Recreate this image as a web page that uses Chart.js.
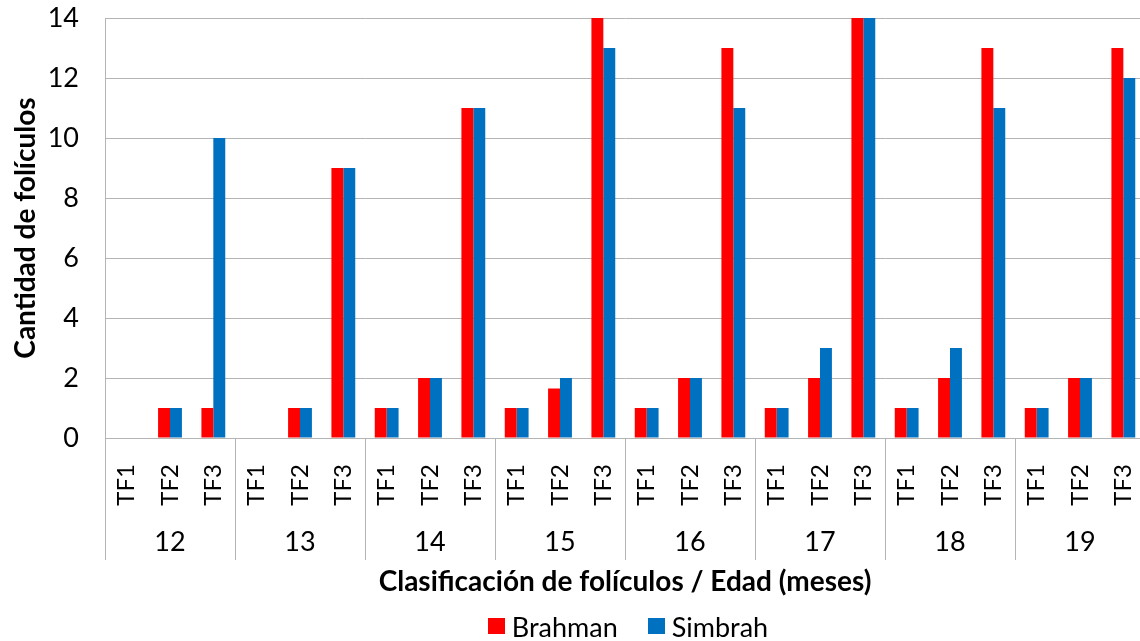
<!DOCTYPE html>
<html>
<head>
<meta charset="utf-8">
<script src="https://cdn.jsdelivr.net/npm/chart.js@4/dist/chart.umd.min.js"></script>
<style>
  html, body { margin: 0; padding: 0; background: #ffffff; overflow: hidden; }
  #wrap { width: 1145px; height: 641px; position: relative; }
</style>
</head>
<body>
<div id="wrap"><canvas id="c"></canvas></div>
<script>
// ---- data ----
const groups = ['12', '13', '14', '15', '16', '17', '18', '19'];
const tfLabels = ['TF1', 'TF2', 'TF3'];
const brahman = [0, 1, 1,  0, 1, 9,  1, 2, 11,  1, 1.65, 14,  1, 2, 13,  1, 2, 14,  1, 2, 13,  1, 2, 13];
const simbrah = [0, 1, 10, 0, 1, 9,  1, 2, 11,  1, 2, 13,    1, 2, 11,  1, 3, 14,  1, 3, 11,  1, 2, 12];
const yTicks = [0, 2, 4, 6, 8, 10, 12, 14];
const seriesNames = ['Brahman', 'Simbrah'];
const seriesColors = ['#ff0000', '#0070c0'];
const yTitle = 'Cantidad de folículos';
const xTitle = 'Clasificación de folículos / Edad (meses)';

const labels = [];
groups.forEach(g => tfLabels.forEach(t => labels.push(t)));

const FONT = 'Lato, "Open Sans", sans-serif';
const gridColor = '#b4b4b4';

const groupPlugin = {
  id: 'groupAxis',
  afterDraw(chart) {
    const ctx = chart.ctx;
    const x = chart.scales.x;
    const area = chart.chartArea;
    const half = (x.getPixelForValue(1) - x.getPixelForValue(0)) / 2;
    ctx.save();
    // dividers between age groups (below the axis)
    ctx.strokeStyle = gridColor;
    ctx.lineWidth = 1;
    for (let g = 0; g <= groups.length; g++) {
      const px = Math.round(x.getPixelForValue(g * tfLabels.length) - half) + 0.5;
      ctx.beginPath();
      ctx.moveTo(px, area.bottom);
      ctx.lineTo(px, 560);
      ctx.stroke();
    }
    // group labels
    ctx.fillStyle = '#000000';
    ctx.font = '27px ' + FONT;
    ctx.textAlign = 'center';
    ctx.textBaseline = 'middle';
    groups.forEach((g, i) => {
      const px = x.getPixelForValue(i * tfLabels.length + 1);
      ctx.fillText(g, px, 542);
    });
    // legend
    ctx.font = '27px ' + FONT;
    ctx.textAlign = 'left';
    const box = 17, gapBT = 7, gapItems = 30;
    const widths = seriesNames.map(n => ctx.measureText(n).width);
    let total = 0;
    widths.forEach((w, i) => { total += box + gapBT + w + (i < widths.length - 1 ? gapItems : 0); });
    let lx = 628 - total / 2;
    const ly = 627;
    seriesNames.forEach((n, i) => {
      ctx.fillStyle = seriesColors[i];
      ctx.fillRect(Math.round(lx), ly - 9, box, box - 1);
      ctx.fillStyle = '#000000';
      ctx.fillText(n, lx + box + gapBT, ly + 1);
      lx += box + gapBT + widths[i] + gapItems;
    });
    ctx.restore();
  }
};

new Chart(document.getElementById('c'), {
  type: 'bar',
  data: {
    labels: labels,
    datasets: [
      { label: seriesNames[0], data: brahman, backgroundColor: seriesColors[0], borderWidth: 0,
        categoryPercentage: 0.55, barPercentage: 1.0 },
      { label: seriesNames[1], data: simbrah, backgroundColor: seriesColors[1], borderWidth: 0,
        categoryPercentage: 0.55, barPercentage: 1.0 }
    ]
  },
  options: {
    responsive: true,
    maintainAspectRatio: false,
    animation: false,
    layout: { padding: { top: 18, right: 0, bottom: 0, left: 0 } },
    plugins: {
      legend: { display: false },
      tooltip: { enabled: false }
    },
    scales: {
      x: {
        grid: { display: false },
        border: { display: false },
        ticks: {
          color: '#000000',
          font: { family: FONT, size: 24 },
          minRotation: 90,
          maxRotation: 90,
          padding: 18,
          autoSkip: false
        },
        title: {
          display: true,
          text: xTitle,
          color: '#000000',
          font: { family: FONT, size: 28, weight: 'bold' },
          padding: { top: 0, bottom: 42 }
        },
        afterFit(scale) {
          scale.height = 641 - 438;
          scale.paddingLeft = 0;
          scale.paddingRight = 0;
        }
      },
      y: {
        min: 0,
        max: 14,
        afterBuildTicks(scale) { scale.ticks = yTicks.map(v => ({ value: v })); },
        grid: { color: gridColor, lineWidth: 1, drawTicks: false },
        border: { display: true, color: gridColor, width: 1 },
        ticks: {
          color: '#000000',
          font: { family: FONT, size: 27 },
          padding: 26
        },
        title: {
          display: true,
          text: yTitle,
          color: '#000000',
          font: { family: FONT, size: 28, weight: 'bold' },
          padding: { top: 9, bottom: 0 }
        },
        afterFit(scale) {
          scale.width = 105;
          scale.paddingTop = 0;
          scale.paddingBottom = 0;
        }
      }
    }
  },
  plugins: [groupPlugin]
});
</script>
</body>
</html>
